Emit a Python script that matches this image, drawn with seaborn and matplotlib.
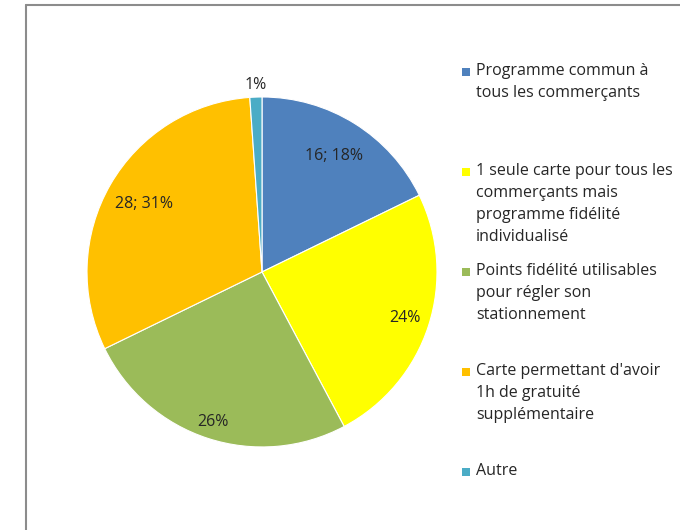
import matplotlib.pyplot as plt
import seaborn as sns
import numpy as np
from matplotlib.lines import Line2D
from matplotlib.patches import Rectangle

categories = [
    "Programme commun à\ntous les commerçants",
    "1 seule carte pour tous les\ncommerçants mais\nprogramme fidélité\nindividualisé",
    "Points fidélité utilisables\npour régler son\nstationnement",
    "Carte permettant d'avoir\n1h de gratuité\nsupplémentaire",
    "Autre",
]
counts = [16, 22, 23, 28, 1]
show_count = [True, False, False, True, False]

sns.set_theme(style="white")
plt.rcParams['font.family'] = ['Open Sans', 'DejaVu Sans']

colors = ["#4F81BD", "#FFFF00", "#9BBB59", "#FFC000", "#4BACC6"]
label_dist = [0.78, 0.86, 0.9, 0.78, 1.07]

fig = plt.figure(figsize=(6.8, 5.3), dpi=100)
ax = fig.add_axes([0.0765, 0.0906, 0.6176, 0.7925])

wedges, _ = ax.pie(counts, colors=colors, startangle=90, counterclock=False,
                   wedgeprops=dict(edgecolor="white", linewidth=0.8))
ax.set_xlim(-1.2, 1.2)
ax.set_ylim(-1.2, 1.2)
ax.set_aspect("equal")

total = sum(counts)
for w, c, show, r in zip(wedges, counts, show_count, label_dist):
    mid = np.deg2rad((w.theta1 + w.theta2) / 2)
    pct = round(c / total * 100)
    txt = f"{c}; {pct}%" if show else f"{pct}%"
    ax.text(r * np.cos(mid), r * np.sin(mid), txt, ha="center", va="center",
            fontsize=11.5, color="#262626")

# legend drawn by hand to keep Excel-like spacing
y0 = 1 - 72 / 530
step = 100 / 530
for i, (lab, col) in enumerate(zip(categories, colors)):
    y = y0 - i * step
    fig.patches.append(Rectangle((462 / 680, y - 4 / 530), 8 / 680, 8 / 530,
                                 transform=fig.transFigure, facecolor=col,
                                 edgecolor="none"))
    fig.text(476 / 680, y + 9 / 530, lab, ha="left", va="top", fontsize=11.5,
             color="#262626", linespacing=1.5)

# chart frame
fig.add_artist(Line2D([26 / 680, 26 / 680], [0, 1 - 5 / 530],
                      transform=fig.transFigure, color="#8c8c8c", lw=1.5))
fig.add_artist(Line2D([26 / 680, 1], [1 - 5 / 530, 1 - 5 / 530],
                      transform=fig.transFigure, color="#8c8c8c", lw=1.5))

fig.savefig("out.png", dpi=100)
plt.close()
